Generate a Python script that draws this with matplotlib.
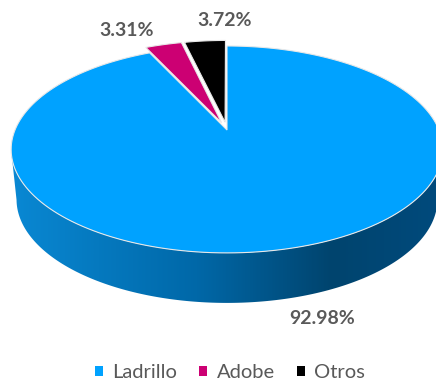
import numpy as np
import matplotlib
matplotlib.use('Agg')
import matplotlib.pyplot as plt
from matplotlib.colors import LinearSegmentedColormap
from matplotlib.patches import Patch, Polygon

categories = ['Ladrillo', 'Adobe', 'Otros']
shares = [92.98, 3.31, 3.72]
colors = ['#00a2ff', '#cc0073', '#000000']
explode = [0.0, 0.08, 0.08]
label_pos = [(322, 318), (127, 30), (225, 21)]

plt.rcParams['font.family'] = ['Lato', 'DejaVu Sans']

# tilted disc: unit circle seen in perspective, apex at (cx, cy) in pixels
cx, cy = 227, 130
A, B, k = 212, 99.8, 0.188
depth = 50


def project(u, v, drop=0, squeeze=1.0):
    w = 1 + k * v
    return cx + squeeze * A * u / w, cy - B * v / w + drop


def slice_outline(start, end, shift):
    # angles run clockwise from twelve o'clock
    t = np.radians(np.linspace(start, end, 200))
    mid = np.radians((start + end) / 2)
    du, dv = shift * np.sin(mid), shift * np.cos(mid)
    u = np.r_[du, np.sin(t) + du]
    v = np.r_[dv, np.cos(t) + dv]
    return np.column_stack(project(u, v))


fig = plt.figure(figsize=(4.36, 3.83), dpi=100)
ax = fig.add_axes([0, 0, 1, 1])

# side wall with a horizontal shading
t = np.radians(np.linspace(0, 360, 720))
u, v = np.sin(t), np.cos(t)
low = v <= -0.193
order = np.argsort(u[low])
ul, vl = u[low][order], v[low][order]
rim_top = np.column_stack(project(ul, vl))
rim_low = np.column_stack(project(ul, vl, drop=depth, squeeze=0.975))
wall = Polygon(np.vstack([rim_top, rim_low[::-1]]), closed=True, fc='none', ec='none')
ax.add_patch(wall)

shade = LinearSegmentedColormap.from_list(
    'wall', [(0, '#0a8ad6'), (0.45, '#0068a8'), (0.76, '#00446e'), (1, '#004a7c')])
img = ax.imshow(np.linspace(0, 1, 436)[None, :], cmap=shade, extent=(0, 436, 383, 0),
                aspect='auto', zorder=1)
img.set_clip_path(wall)

# top face
start = 0
for share, color, shift in zip(shares, colors, explode):
    end = start + share * 3.6
    ax.add_patch(Polygon(slice_outline(start, end, shift), closed=True, fc=color,
                         ec='#e8e8e8', lw=0.8, zorder=2))
    start = end

for share, (x, y) in zip(shares, label_pos):
    ax.text(x, y, f'{share:.2f}%', ha='center', va='center', fontsize=14,
            fontweight='bold', color='#595959')

handles = [Patch(fc=c, ec='none', label=n) for c, n in zip(colors, categories)]
ax.legend(handles=handles, loc='center', bbox_to_anchor=(230, 373), ncol=3,
          bbox_transform=ax.transData, frameon=False, fontsize=14.5,
          labelcolor='#595959', handlelength=0.4, handleheight=0.4,
          handletextpad=0.45, columnspacing=1.1, borderpad=0)

ax.set_xlim(0, 436)
ax.set_ylim(383, 0)
ax.axis('off')

fig.savefig('out.png', dpi=100)
